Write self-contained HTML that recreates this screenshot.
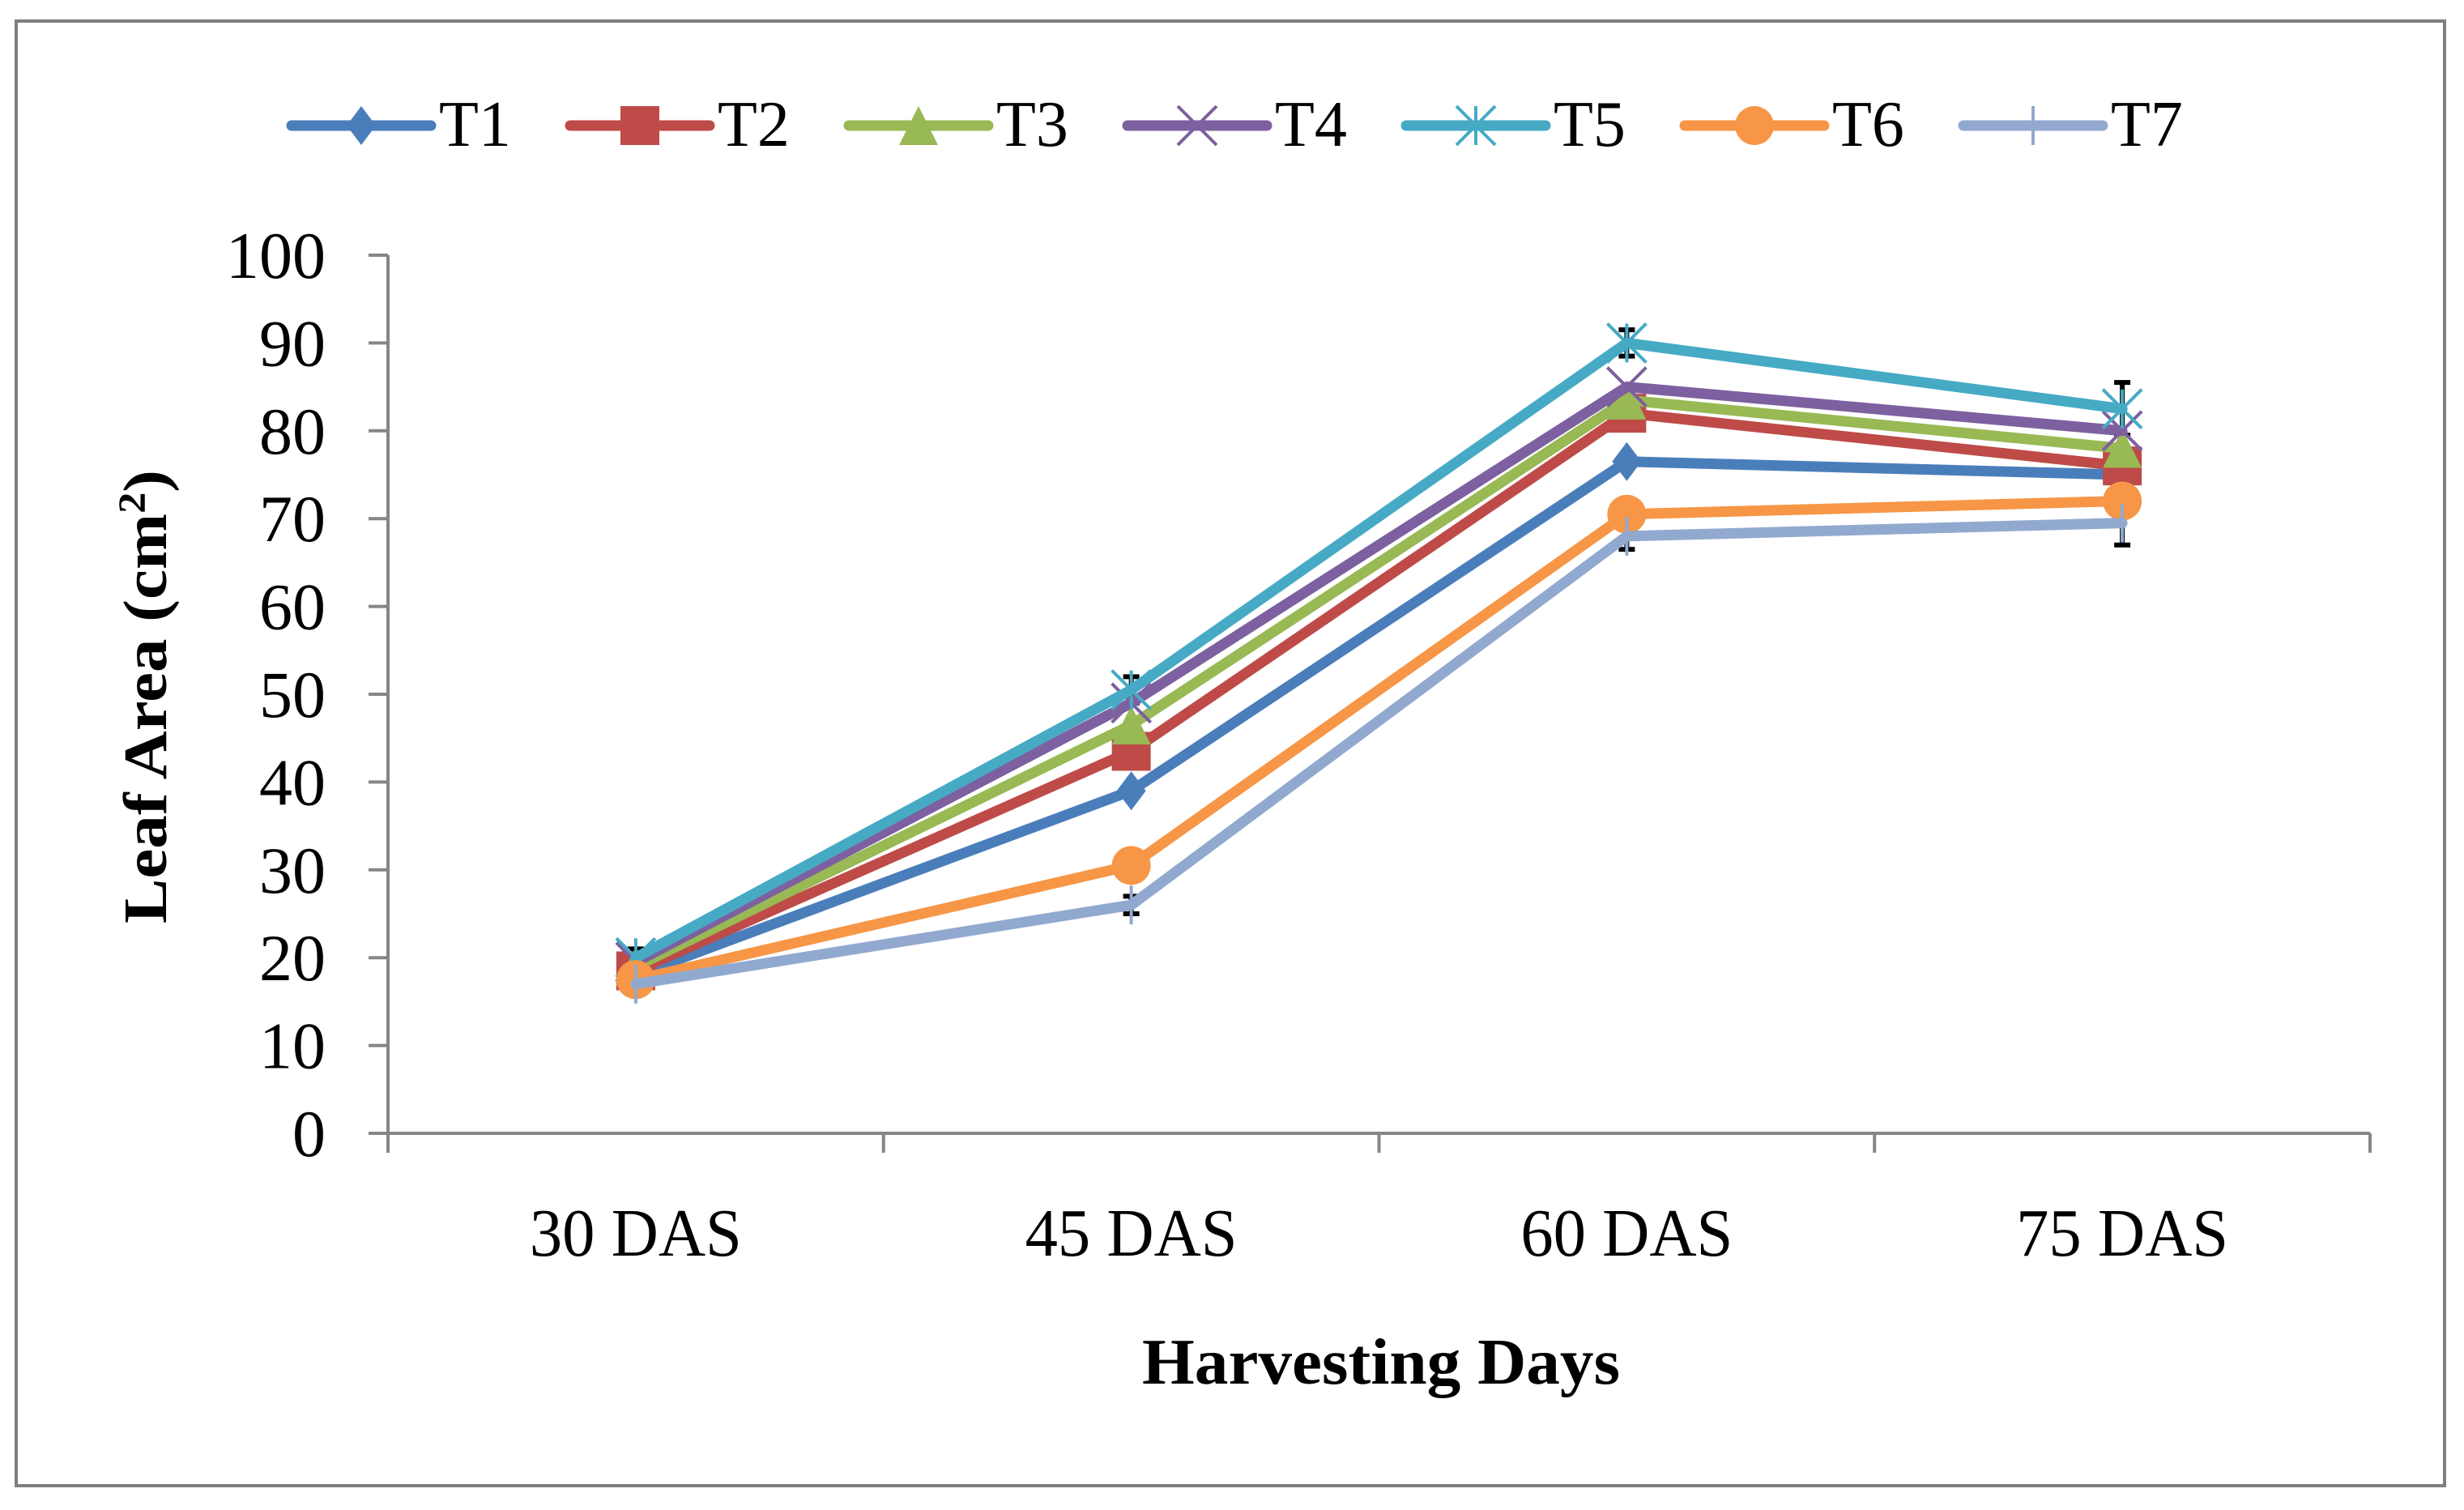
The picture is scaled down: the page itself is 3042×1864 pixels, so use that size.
<!DOCTYPE html>
<html><head><meta charset="utf-8"><style>
html,body{margin:0;padding:0;background:#fff;}
svg{display:block;}
text{font-family:"Liberation Serif",serif;fill:#000;}
</style></head><body>
<svg id="chart" width="3042" height="1864" viewBox="0 0 3042 1864" xmlns="http://www.w3.org/2000/svg">
<rect x="20" y="26" width="2998" height="1808" fill="#fff" stroke="#7f7f7f" stroke-width="4"/>
<g id="axes"></g>
<g id="series"></g>
<g id="legend"></g>
<text x="1705" y="1708" font-size="80" font-weight="bold" text-anchor="middle" textLength="590" lengthAdjust="spacingAndGlyphs">Harvesting Days</text>
<text transform="translate(205,860) rotate(-90)" font-size="76" font-weight="bold" text-anchor="middle" textLength="560" lengthAdjust="spacingAndGlyphs">Leaf Area (cm<tspan font-size="48" dy="-26">2</tspan><tspan dy="26">)</tspan></text>
</svg>
<script>
const categories = ["30 DAS","45 DAS","60 DAS","75 DAS"];
const yTicks = [0,10,20,30,40,50,60,70,80,90,100];
const seriesNames = ["T1","T2","T3","T4","T5","T6","T7"];
const t1 = [18, 39, 76.5, 75];
const t2 = [18.5, 43.5, 82, 76];
const t3 = [19, 46.5, 83.5, 78];
const t4 = [19.5, 49, 85, 80];
const t5 = [20, 50.5, 90, 82.5];
const t6 = [17.5, 30.5, 70.5, 72];
const t7 = [17, 26, 68, 69.5];
const errT5 = [1, 1.5, 1.5, 3];
const errT7 = [1, 1, 1.5, 2.5];

const NS = "http://www.w3.org/2000/svg";
const X0 = 479, X1 = 2926, Y0 = 1399, Y100 = 315;
const bw = (X1 - X0) / categories.length;
function xs(i){ return X0 + bw * (i + 0.5); }
function ys(v){ return Y0 - (v / 100) * (Y0 - Y100); }
function mk(tag, attrs, parent){
  const e = document.createElementNS(NS, tag);
  for (const k in attrs) e.setAttribute(k, attrs[k]);
  parent.appendChild(e);
  return e;
}
const axes = document.getElementById('axes');
let el = mk('line',{x1:X0,y1:Y100,x2:X0,y2:Y0,stroke:'#868686','stroke-width':4},axes);


el = mk('line',{x1:X0,y1:Y0,x2:X1,y2:Y0,stroke:'#868686','stroke-width':4},axes);


yTicks.forEach(v=>{
  const t = mk('line',{x1:X0-24,y1:ys(v),x2:X0,y2:ys(v),stroke:'#868686','stroke-width':4},axes);
  
  
  const lb = mk('text',{x:402,y:ys(v)+28,'font-size':82,'text-anchor':'end'},axes);
  lb.textContent = String(v);
  
  
});
for (let i=0;i<=categories.length;i++){
  const x = X0 + bw*i;
  const t = mk('line',{x1:x,y1:Y0,x2:x,y2:Y0+24,stroke:'#868686','stroke-width':4},axes);
  
  
}
categories.forEach((c,i)=>{
  const lb = mk('text',{x:xs(i),y:1550,'font-size':84,'text-anchor':'middle',textLength:262,lengthAdjust:'spacingAndGlyphs'},axes);
  lb.textContent = c;
  
  
});

const colors = ["#4a7ebb","#be4b48","#98b954","#7d60a0","#46aac5","#f79646","#92a9cf"];
const marks = ["diamond","square","triangle","x","star","circle","plus"];
const allData = [t1,t2,t3,t4,t5,t6,t7];

function marker(g, type, x, y, c){
  const s = 24;
  if (type==='diamond') mk('polygon',{points:`${x},${y-s} ${x+s*0.75},${y} ${x},${y+s} ${x-s*0.75},${y}`,fill:c},g);
  else if (type==='square') mk('rect',{x:x-s,y:y-s,width:2*s,height:2*s,fill:c},g);
  else if (type==='triangle') mk('polygon',{points:`${x},${y-s} ${x+s},${y+s} ${x-s},${y+s}`,fill:c},g);
  else if (type==='circle') mk('circle',{cx:x,cy:y,r:s,fill:c},g);
  else if (type==='x'){ mk('path',{d:`M${x-s},${y-s}L${x+s},${y+s}M${x+s},${y-s}L${x-s},${y+s}`,stroke:c,'stroke-width':4},g); }
  else if (type==='star'){ mk('path',{d:`M${x-s},${y-s}L${x+s},${y+s}M${x+s},${y-s}L${x-s},${y+s}M${x},${y-s}L${x},${y+s}`,stroke:c,'stroke-width':4},g); }
  else if (type==='plus'){ mk('path',{d:`M${x},${y-s}L${x},${y+s}`,stroke:c,'stroke-width':4},g); }
}

const sg = document.getElementById('series');
// error bars
[[t5,errT5],[t7,errT7]].forEach(([d,e])=>{
  d.forEach((v,i)=>{
    const x = xs(i);
    const p = mk('path',{d:`M${x},${ys(v+e[i])}L${x},${ys(v-e[i])}M${x-10},${ys(v+e[i])}L${x+10},${ys(v+e[i])}M${x-10},${ys(v-e[i])}L${x+10},${ys(v-e[i])}`,stroke:'#000','stroke-width':6},sg);
    
    
  });
});
allData.forEach((d,si)=>{
  const g = mk('g',{},sg);
  
  
  const pts = d.map((v,i)=>xs(i)+','+ys(v)).join(' ');
  const pl = mk('polyline',{points:pts,fill:'none',stroke:colors[si],'stroke-width':13,'stroke-linejoin':'round','stroke-linecap':'round'},g);
  
  
  d.forEach((v,i)=>marker(g,marks[si],xs(i),ys(v),colors[si]));
});

const lg = document.getElementById('legend');
seriesNames.forEach((n,i)=>{
  const x = 360 + 344*i;
  const g = mk('g',{},lg);
  
  
  mk('line',{x1:x,y1:155,x2:x+172,y2:155,stroke:colors[i],'stroke-width':13,'stroke-linecap':'round'},g);
  marker(g,marks[i],x+86,155,colors[i]);
  const t = mk('text',{x:x+182,y:180,'font-size':80},g);
  t.textContent = n;
});
</script>
</body></html>
